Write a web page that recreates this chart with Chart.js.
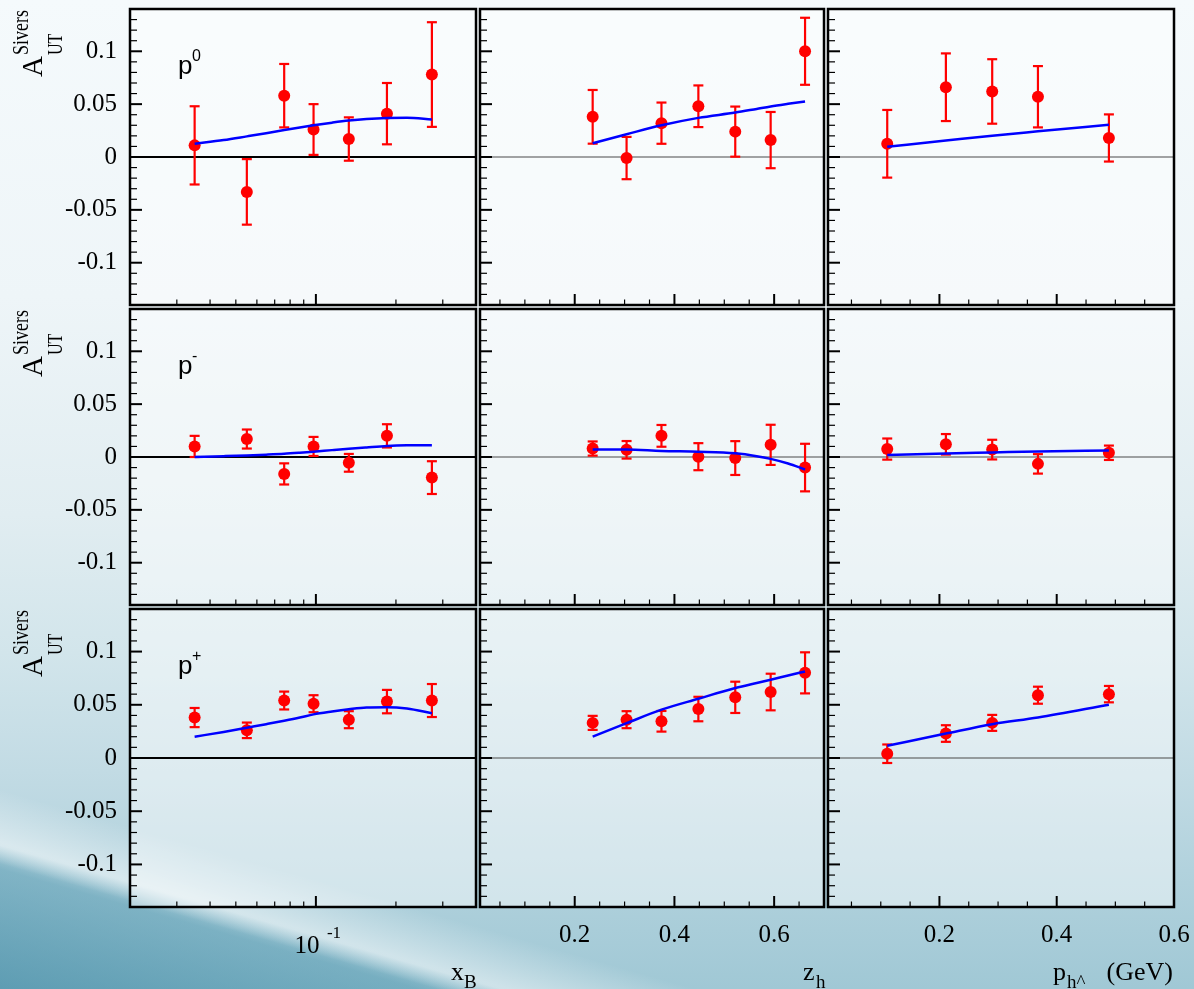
<!DOCTYPE html>
<html>
<head>
<meta charset="utf-8">
<title>Sivers asymmetries</title>
<script src="https://cdn.jsdelivr.net/npm/chart.js@4.4.1/dist/chart.umd.min.js"></script>
<style>
  html, body { margin: 0; padding: 0; }
  body {
    width: 1194px; height: 989px; overflow: hidden; position: relative;
    background:
      linear-gradient(196deg, rgba(255,255,255,0) 85%, rgba(255,255,255,0.5) 89.2%, rgba(255,255,255,0) 90.6%),
      linear-gradient(196deg, rgba(55,135,162,0) 89%, rgba(55,135,162,0.4) 91%, rgba(50,128,156,0.6) 100%),
      linear-gradient(to bottom, #f5fafc 0%, #eef5f8 30%, #e1edf1 52%, #d2e5eb 66%, #c2dbe4 78%, #b2d2dd 88%, #a0c8d5 100%);
  }
  canvas { position: absolute; }
</style>
</head>
<body>
<script>
// bin centres
const xBins = [0.035, 0.055, 0.076, 0.098, 0.133, 0.185, 0.273];
const zBins = [0.236, 0.304, 0.374, 0.448, 0.522, 0.593, 0.662];
const ptBins = [0.111, 0.211, 0.29, 0.368, 0.489];

// pi0 asymmetries
const pi0X = [0.011, -0.033, 0.058, 0.026, 0.017, 0.041, 0.078];
const pi0XErr = [0.037, 0.031, 0.030, 0.024, 0.0205, 0.029, 0.0495];
const pi0Z = [0.038, -0.001, 0.032, 0.048, 0.024, 0.016, 0.100];
const pi0ZErr = [0.0254, 0.020, 0.0195, 0.0197, 0.0237, 0.0266, 0.0317];
const pi0Pt = [0.0125, 0.066, 0.062, 0.057, 0.018];
const pi0PtErr = [0.032, 0.032, 0.0305, 0.029, 0.0223];

// pi- asymmetries
const pimX = [0.010, 0.017, -0.016, 0.010, -0.0055, 0.020, -0.0195];
const pimXErr = [0.010, 0.009, 0.010, 0.009, 0.0084, 0.011, 0.0155];
const pimZ = [0.008, 0.0068, 0.020, 0.0003, -0.001, 0.0115, -0.010];
const pimZErr = [0.0067, 0.0083, 0.0103, 0.0128, 0.016, 0.019, 0.0225];
const pimPt = [0.0075, 0.012, 0.007, -0.0065, 0.004];
const pimPtErr = [0.010, 0.0097, 0.0093, 0.0092, 0.0068];

// pi+ asymmetries
const pipX = [0.038, 0.026, 0.054, 0.051, 0.036, 0.053, 0.054];
const pipXErr = [0.009, 0.0073, 0.0084, 0.008, 0.008, 0.011, 0.0155];
const pipZ = [0.033, 0.036, 0.0345, 0.046, 0.057, 0.062, 0.080];
const pipZErr = [0.0066, 0.008, 0.0097, 0.0115, 0.0147, 0.0172, 0.0193];
const pipPt = [0.004, 0.023, 0.033, 0.059, 0.060];
const pipPtErr = [0.0087, 0.0078, 0.0075, 0.008, 0.0077];

// model curves
const xCurve = [0.035, 0.045, 0.055, 0.065, 0.076, 0.087, 0.098, 0.115, 0.133, 0.155, 0.185, 0.22, 0.273];
const pi0XFit = [0.0125, 0.016, 0.0195, 0.0225, 0.0255, 0.028, 0.030, 0.0325, 0.0345, 0.036, 0.037, 0.0372, 0.0355];
const pimXFit = [0.0, 0.0008, 0.0015, 0.0022, 0.003, 0.004, 0.005, 0.0065, 0.0078, 0.009, 0.0103, 0.011, 0.0112];
const pipXFit = [0.020, 0.0245, 0.0285, 0.0318, 0.035, 0.038, 0.041, 0.0437, 0.0458, 0.0475, 0.0478, 0.0465, 0.042];

const zCurve = [0.236, 0.304, 0.374, 0.448, 0.522, 0.565, 0.593, 0.628, 0.662];
const pi0ZFit = [0.013, 0.0215, 0.030, 0.037, 0.042, 0.0455, 0.0478, 0.0503, 0.0526];
const pimZFit = [0.0071, 0.0071, 0.0057, 0.005, 0.0035, 0.0008, -0.0018, -0.0062, -0.0118];
const pipZFit = [0.020, 0.0327, 0.0454, 0.0557, 0.0657, 0.0705, 0.0735, 0.0775, 0.0813];

const ptCurve = [0.111, 0.211, 0.29, 0.368, 0.489];
const pi0PtFit = [0.0096, 0.0155, 0.0202, 0.0243, 0.0305];
const pimPtFit = [0.0019, 0.0034, 0.0043, 0.0052, 0.0062];
const pipPtFit = [0.0115, 0.023, 0.0318, 0.038, 0.0501];

// axis ticks
const yTicks = [];
for (let k = -14; k <= 14; k++) yTicks.push(k / 100);
const yLabels = { '10': '0.1', '5': '0.05', '0': '0', '-5': '-0.05', '-10': '-0.1' };
const xLogTicks = [0.02, 0.03, 0.04, 0.05, 0.06, 0.07, 0.08, 0.09, 0.1, 0.2, 0.3, 0.4];
const zTicks = [0.05, 0.1, 0.15, 0.2, 0.25, 0.3, 0.35, 0.4, 0.45, 0.5, 0.55, 0.6, 0.65, 0.7];
const ptTicks = [0.05, 0.1, 0.15, 0.2, 0.25, 0.3, 0.35, 0.4, 0.45, 0.5, 0.55, 0.6];

const charges = ['0', '-', '+'];
const cells = [
  [[pi0X, pi0XErr, pi0XFit], [pi0Z, pi0ZErr, pi0ZFit], [pi0Pt, pi0PtErr, pi0PtFit]],
  [[pimX, pimXErr, pimXFit], [pimZ, pimZErr, pimZFit], [pimPt, pimPtErr, pimPtFit]],
  [[pipX, pipXErr, pipXFit], [pipZ, pipZErr, pipZFit], [pipPt, pipPtErr, pipPtFit]]
];
const columns = [
  { bins: xBins, curve: xCurve, type: 'logarithmic', min: 0.02, max: 0.4, ticks: xLogTicks },
  { bins: zBins, curve: zCurve, type: 'linear', min: 0.01, max: 0.7, ticks: zTicks },
  { bins: ptBins, curve: ptCurve, type: 'linear', min: 0.01, max: 0.6, ticks: ptTicks }
];

const SERIF = '"Liberation Serif", "Times New Roman", serif';
const SANS = '"Liberation Sans", Arial, sans-serif';

function isMajorX(col, v) {
  if (col === 0) return Math.abs(v - 0.1) < 1e-9;
  return Math.abs(v / 0.2 - Math.round(v / 0.2)) < 1e-6;
}

function xLabel(col, v) {
  if (col === 0) return Math.abs(v - 0.1) < 1e-9 ? '10' : '';
  return isMajorX(col, v) ? v.toFixed(1) : '';
}

function line(ctx, x1, y1, x2, y2) {
  ctx.beginPath(); ctx.moveTo(x1, y1); ctx.lineTo(x2, y2); ctx.stroke();
}

// keep label overhang from shrinking the plot area
function noOverhang(s) {
  s.paddingLeft = 0; s.paddingRight = 0; s.paddingTop = 0; s.paddingBottom = 0;
}

const decor = {
  id: 'decor',
  beforeDraw(chart) {
    const { ctx, chartArea: a } = chart;
    ctx.save();
    ctx.fillStyle = 'rgba(255,255,255,0.45)';
    ctx.fillRect(a.left, a.top, a.width, a.height);
    ctx.restore();
  },
  beforeDatasetsDraw(chart, args, o) {
    const { ctx, chartArea: a, scales: { x, y } } = chart;
    ctx.save();
    // zero line
    const y0 = y.getPixelForValue(0);
    ctx.strokeStyle = o.col === 0 ? '#000' : '#4a4a4a';
    ctx.lineWidth = o.col === 0 ? 2.2 : 1.1;
    line(ctx, a.left, y0, a.right, y0);
    // error bars
    const ds = chart.data.datasets.find(d => d.errors);
    ctx.strokeStyle = '#ff0000';
    ctx.lineWidth = 2.2;
    ds.data.forEach((p, i) => {
      const px = x.getPixelForValue(p.x);
      const hi = y.getPixelForValue(p.y + ds.errors[i]);
      const lo = y.getPixelForValue(p.y - ds.errors[i]);
      line(ctx, px, hi, px, lo);
      line(ctx, px - 5, hi, px + 5, hi);
      line(ctx, px - 5, lo, px + 5, lo);
    });
    ctx.restore();
  },
  afterDraw(chart, args, o) {
    const { ctx, chartArea: a, scales: { x, y } } = chart;
    const col = o.col, row = o.row;
    ctx.save();
    ctx.strokeStyle = '#000';
    // inner tick marks on the left edge
    yTicks.forEach(v => {
      const k = Math.round(v * 100);
      if (Math.abs(k) === 14) return;
      const major = k % 5 === 0;
      const py = y.getPixelForValue(v);
      ctx.lineWidth = major ? 2 : 1.2;
      line(ctx, a.left, py, a.left + (major ? 12 : 7), py);
    });
    // inner tick marks on the bottom edge
    columns[col].ticks.forEach(v => {
      const px = x.getPixelForValue(v);
      if (px <= a.left + 1 || px >= a.right - 1) return;
      const major = isMajorX(col, v);
      ctx.lineWidth = major ? 2 : 1.2;
      line(ctx, px, a.bottom, px, a.bottom - (major ? 11 : 5.5));
    });
    // frame
    ctx.lineWidth = 2.5;
    ctx.strokeRect(a.left, a.top, a.width, a.height);

    ctx.fillStyle = '#000';
    ctx.textBaseline = 'alphabetic';
    ctx.textAlign = 'left';

    // hadron label in the first column
    if (col === 0) {
      ctx.font = '26px ' + SANS;
      ctx.fillText('p', a.left + 48, a.top + 65);
      ctx.font = '16px ' + SANS;
      ctx.fillText(charges[row], a.left + 62, a.top + 52);

      // y-axis title, rotated
      ctx.save();
      ctx.translate(42, a.top + 68);
      ctx.rotate(-Math.PI / 2);
      ctx.font = '29px ' + SERIF;
      ctx.fillText('A', 0, 0);
      ctx.save();
      ctx.translate(22, 20);
      ctx.scale(1, 1.35);
      ctx.font = '16px ' + SERIF;
      ctx.fillText('UT', 0, 0);
      ctx.restore();
      ctx.save();
      ctx.translate(22, -14);
      ctx.scale(1, 1.25);
      ctx.font = '18px ' + SERIF;
      ctx.fillText('Sivers', 0, 0);
      ctx.restore();
      ctx.restore();
    }

    // axis titles under the bottom row
    if (row === 2) {
      const base = a.bottom + 73, sub = a.bottom + 81;
      if (col === 0) {
        ctx.font = '17px ' + SERIF;
        ctx.fillText('-1', x.getPixelForValue(0.1) + 11, a.bottom + 31);
        ctx.font = '26px ' + SERIF;
        ctx.fillText('x', a.right - 25, base);
        ctx.font = '19px ' + SERIF;
        ctx.fillText('B', a.right - 12, sub);
      } else if (col === 1) {
        ctx.font = '26px ' + SERIF;
        ctx.fillText('z', a.right - 21, base);
        ctx.font = '19px ' + SERIF;
        ctx.fillText('h', a.right - 8, sub);
      } else {
        ctx.font = '26px ' + SERIF;
        ctx.fillText('p', a.right - 121, base);
        ctx.font = '19px ' + SERIF;
        ctx.fillText('h^', a.right - 107, sub);
        ctx.font = '26px ' + SERIF;
        ctx.textAlign = 'right';
        ctx.fillText('(GeV)', a.right - 1, base);
      }
    }
    ctx.restore();
  }
};

const colLeft = [130, 478, 826];
const rowTop = [7, 307, 607];
const W = 348, H = 300, PAD = 4;

for (let r = 0; r < 3; r++) {
  for (let c = 0; c < 3; c++) {
    const aL = colLeft[c], aT = rowTop[r], aR = aL + W, aB = aT + H;
    const cL = c === 0 ? 0 : aL - PAD;
    const cT = aT - PAD;
    const cR = c === 2 ? 1194 : aR + PAD;
    const cB = r === 2 ? 989 : aB + PAD;

    const canvas = document.createElement('canvas');
    canvas.width = cR - cL;
    canvas.height = cB - cT;
    canvas.style.left = cL + 'px';
    canvas.style.top = cT + 'px';
    canvas.style.width = (cR - cL) + 'px';
    canvas.style.height = (cB - cT) + 'px';
    document.body.appendChild(canvas);

    const colDef = columns[c];
    const [vals, errs, fit] = cells[r][c];

    new Chart(canvas, {
      type: 'scatter',
      data: {
        datasets: [
          {
            type: 'scatter',
            data: colDef.bins.map((b, i) => ({ x: b, y: vals[i] })),
            errors: errs,
            backgroundColor: '#ff0000',
            borderColor: '#ff0000',
            borderWidth: 0,
            pointRadius: 6,
            order: 1
          },
          {
            type: 'line',
            data: colDef.curve.map((b, i) => ({ x: b, y: fit[i] })),
            borderColor: '#0000ff',
            borderWidth: 2.5,
            pointRadius: 0,
            fill: false,
            cubicInterpolationMode: 'monotone',
            order: 0
          }
        ]
      },
      options: {
        responsive: false,
        animation: false,
        devicePixelRatio: 1,
        events: [],
        layout: {
          padding: { left: c === 0 ? 0 : PAD, top: PAD, right: cR - aR, bottom: r === 2 ? 0 : PAD }
        },
        plugins: {
          legend: { display: false },
          tooltip: { enabled: false },
          decor: { row: r, col: c }
        },
        scales: {
          x: {
            type: colDef.type,
            min: colDef.min,
            max: colDef.max,
            offset: false,
            display: r === 2,
            afterBuildTicks: s => { s.ticks = colDef.ticks.map(v => ({ value: v })); },
            afterFit: s => { noOverhang(s); if (r === 2) s.height = 989 - aB; },
            grid: { display: false, drawTicks: false },
            border: { display: false },
            ticks: {
              autoSkip: false,
              maxRotation: 0,
              minRotation: 0,
              color: '#000',
              font: { family: SERIF, size: 25 },
              padding: c === 0 ? 24 : 13,
              labelOffset: c === 0 ? -9 : 0,
              callback: v => xLabel(c, v)
            }
          },
          y: {
            type: 'linear',
            min: -0.14,
            max: 0.14,
            display: c === 0,
            afterBuildTicks: s => { s.ticks = yTicks.map(v => ({ value: v })); },
            afterFit: s => { noOverhang(s); if (c === 0) s.width = aL; },
            grid: { display: false, drawTicks: false },
            border: { display: false },
            ticks: {
              autoSkip: false,
              color: '#000',
              font: { family: SERIF, size: 25 },
              padding: 13,
              callback: v => yLabels[String(Math.round(v * 100))] || ''
            }
          }
        }
      },
      plugins: [decor]
    });
  }
}
</script>
</body>
</html>
